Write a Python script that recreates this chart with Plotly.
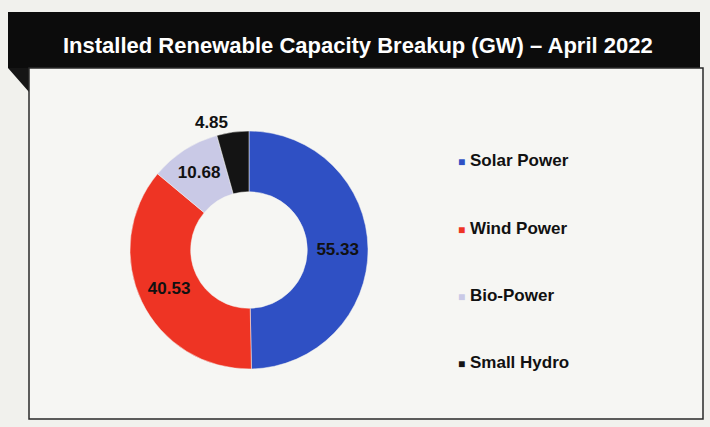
import plotly.graph_objects as go

W, H = 710, 427

labels = ["Solar Power", "Wind Power", "Bio-Power", "Small Hydro"]
values = [55.33, 40.53, 10.68, 4.85]
colors = ["#2f50c4", "#ee3424", "#c9c9e6", "#141414"]
text_pos = ["inside", "inside", "inside", "outside"]
title = "Installed Renewable Capacity Breakup (GW) \u2013 April 2022"


def px(x):
    return x / W


def py(y):
    return 1 - y / H


fig = go.Figure()

fig.add_trace(go.Pie(
    labels=labels,
    values=values,
    hole=0.49,
    sort=False,
    direction="clockwise",
    rotation=0,
    marker=dict(colors=colors, line=dict(color="#f4f4f0", width=0.5)),
    texttemplate="<b>%{value}</b>",
    textposition=text_pos,
    insidetextorientation="horizontal",
    textfont=dict(family="Liberation Sans, Arial", size=17, color="#111111"),
    outsidetextfont=dict(family="Liberation Sans, Arial", size=17, color="#111111"),
    domain=dict(x=[px(130), px(368)], y=[py(369), py(131)]),
    showlegend=False,
    hoverinfo="label+value+percent",
))

shapes = [
    # header bar
    dict(type="rect", xref="paper", yref="paper",
         x0=px(8), x1=px(700), y0=py(68), y1=py(12),
         fillcolor="#0c0c0c", line=dict(width=0), layer="below"),
    # folded corner
    dict(type="path", xref="paper", yref="paper",
         path=f"M {px(8)} {py(68)} L {px(29)} {py(68)} L {px(29)} {py(92)} Z",
         fillcolor="#151515", line=dict(width=0), layer="below"),
    # content box
    dict(type="rect", xref="paper", yref="paper",
         x0=px(29), x1=px(703), y0=py(419), y1=py(68),
         fillcolor="#f6f6f3", line=dict(color="#2a2a2a", width=1.5), layer="below"),
]

annotations = [
    dict(text=f"<b>{title}</b>", x=px(358), y=py(45), xref="paper", yref="paper",
         showarrow=False, xanchor="center", yanchor="middle",
         font=dict(family="Liberation Sans, Arial", size=22, color="#ffffff")),
]

# legend drawn as text, one row per category
legend_y = [160, 228, 295, 362]
for name, col, ly in zip(labels, colors, legend_y):
    annotations.append(dict(
        text=f"<span style='color:{col};font-size:12px'>\u25a0</span> <b>{name}</b>",
        x=px(456), y=py(ly), xref="paper", yref="paper",
        showarrow=False, xanchor="left", yanchor="middle",
        font=dict(family="Liberation Sans, Arial", size=17, color="#111111"),
    ))

fig.update_layout(
    width=W,
    height=H,
    margin=dict(l=0, r=0, t=0, b=0),
    paper_bgcolor="#f1f1ed",
    plot_bgcolor="#f1f1ed",
    shapes=shapes,
    annotations=annotations,
)

fig.write_html("out.html", config={"displayModeBar": False},
               post_script="document.body.style.margin='0';")
